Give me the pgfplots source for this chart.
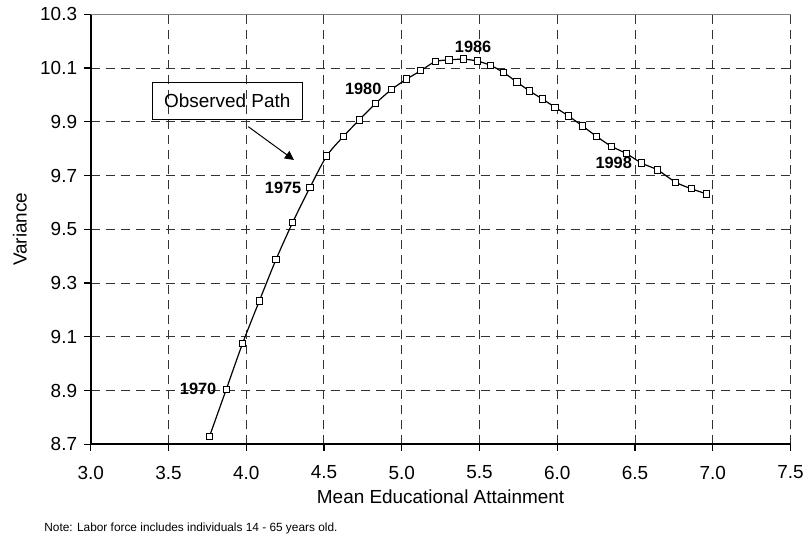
\documentclass[border=0pt]{standalone}
\usepackage{pgfplots}
\pgfplotsset{compat=1.18}
\usepackage{pgfplotstable}
\usepackage{fontspec}
\setmainfont{Liberation Sans}
\usetikzlibrary{arrows.meta}

\pgfplotstableread{
x y
3.763 8.728
3.872 8.905
3.977 9.076
4.084 9.233
4.192 9.388
4.299 9.526
4.410 9.656
4.518 9.773
4.624 9.845
4.727 9.907
4.833 9.969
4.936 10.021
5.032 10.059
5.122 10.090
5.216 10.124
5.304 10.130
5.396 10.133
5.486 10.126
5.570 10.110
5.653 10.084
5.740 10.048
5.821 10.015
5.904 9.985
5.986 9.954
6.071 9.922
6.161 9.885
6.254 9.845
6.348 9.809
6.447 9.781
6.543 9.746
6.644 9.721
6.762 9.675
6.862 9.651
6.959 9.632
}\obs

\begin{document}
\begin{tikzpicture}
\begin{axis}[
  scale only axis, width=349.9bp, height=215bp,
  xmin=3, xmax=7.5, ymin=8.7, ymax=10.3,
  axis x line*=bottom, axis y line*=left,
  axis line style={black, line width=0.9bp, -},
  xtick={3,3.5,4,4.5,5,5.5,6,6.5,7,7.5},
  ytick={8.7,8.9,9.1,9.3,9.5,9.7,9.9,10.1,10.3},
  xticklabel={\pgfmathprintnumber[fixed,fixed zerofill,precision=1,assume math mode=true]{\tick}},
  yticklabel={\pgfmathprintnumber[fixed,fixed zerofill,precision=1,assume math mode=true]{\tick}},
  tick align=outside, major tick length=3.3bp,
  tick style={black, line width=0.6bp},
  grid=major,
  major grid style={black!80, dash pattern=on 4.5bp off 3bp, line width=0.5bp},
  tick label style={font=\fontsize{9.5}{11}\selectfont},
  xticklabel style={yshift=-4bp},
  xlabel={Mean Educational Attainment}, ylabel={Variance},
  label style={font=\fontsize{9.5}{11}\selectfont},
  xlabel style={at={(axis description cs:0.5,-0.1228)}, anchor=center},
  ylabel style={at={(axis description cs:-0.1012,0.5)}, anchor=center},
  clip=false,
]
\draw[gray, line width=0.5bp] (rel axis cs:0,1) -- (rel axis cs:1,1);
\addplot[black, line width=0.6bp, smooth, tension=0.5, mark=square*, mark size=1.6bp,
  mark options={fill=white, solid, line width=0.5bp}] table[x=x,y=y] {\obs};
\begin{scope}[every node/.style={font=\fontsize{8.2}{9}\selectfont\bfseries, inner sep=0pt}]
\node[anchor=east, xshift=-4.8bp] at (axis cs:3.872,8.905) {1970};
\node[anchor=east, xshift=-4.15bp] at (axis cs:4.410,9.656) {1975};
\node[anchor=east, xshift=-5bp] at (axis cs:4.936,10.021) {1980};
\node[anchor=base] at (axis cs:5.459,10.157) {1986};
\node[anchor=east, xshift=-4.7bp] at (axis cs:6.543,9.746) {1998};
\end{scope}
\node[draw=black, line width=0.5bp, minimum width=75bp, minimum height=18.2bp, inner sep=0pt,
  font=\fontsize{9.5}{11}\selectfont] at (axis cs:3.878,9.978) {Observed Path};
\draw[black, line width=0.5bp, -{Triangle[length=4.5bp,width=4.5bp]}] (axis cs:4.013,9.882) -- (axis cs:4.307,9.758);
\end{axis}
\node[anchor=west, inner sep=0pt, font=\fontsize{5.95}{7}\selectfont] at ([shift={(-23.35bp,-41.85bp)}]current axis.south west) {Note: Labor force includes individuals 14 - 65 years old.};
\pgfresetboundingbox
\path[use as bounding box] ([shift={(-45.35bp,-45.35bp)}]current axis.south west) rectangle ([shift={(6.75bp,7.15bp)}]current axis.north east);
\end{tikzpicture}
\end{document}
